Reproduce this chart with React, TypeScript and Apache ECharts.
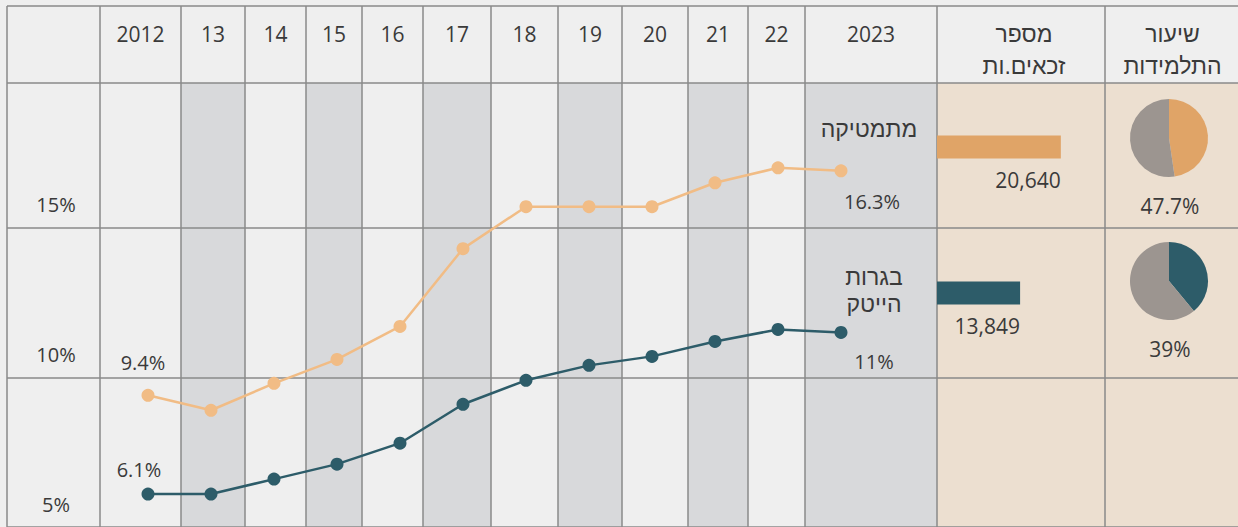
import React, { useEffect, useRef } from "react";
import * as echarts from "echarts";

// ---------- data ----------
const years = ["2012", "13", "14", "15", "16", "17", "18", "19", "20", "21", "22", "2023"];
const mathShare = [9.4, 8.9, 9.8, 10.6, 11.7, 14.3, 15.7, 15.7, 15.7, 16.5, 17.0, 16.9];
const hitechShare = [6.1, 6.1, 6.6, 7.1, 7.8, 9.1, 9.9, 10.4, 10.7, 11.2, 11.6, 11.5];
const mathEndTexts = ["9.4%", "16.3%"];
const hitechEndTexts = ["6.1%", "11%"];
const trackNames = ["מתמטיקה", "בגרות\nהייטק"];
const eligibleCount = [20640, 13849];
const femaleShare = [47.7, 39];
const headerTitles = ["מספר\nזכאים.ות", "שיעור\nהתלמידות"];

// ---------- style / layout ----------
const W = 1238;
const H = 527;
const FONT = "'Open Sans', 'DejaVu Sans', sans-serif";
const HEB_FONT = "'Liberation Sans', 'DejaVu Sans', sans-serif";
const HEB_SIZE = 23;
const TEXT = "#3a3a3a";
const ORANGE_LINE = "#f1bc85";
const ORANGE_BAR = "#e0a467";
const TEAL = "#2d5c69";
const PIE_GRAY = "#9c9590";
const BG = "#efefef";
const STRIPE = "#d8d9db";
const TAN = "#ecdfd0";
const RULE = "#8a8a8a";

const TABLE_LEFT = 7;
const TABLE_TOP = 6;
const HEADER_BOTTOM = 83;
const COL_EDGES = [7, 100, 181, 245, 306, 362, 423, 491, 558, 622, 688, 748, 805, 937, 1105];
const YEAR_COL_START = 1; // index in COL_EDGES where the year columns begin

const LINE_GRID = { left: 116.5, top: HEADER_BOTTOM, width: 756, height: 445 };
const PX_PER_PCT = 30;
const Y_MIN = 5;
const Y_MAX = Y_MIN + LINE_GRID.height / PX_PER_PCT;
const Y_STEP = 5;

const BAR_GRID = { left: 937, top: 74, width: 168, height: 292 };
const BAR_MAX = 28000;
const PIE_X = 1169;
const PIE_CENTERS_Y = [138, 281];
const PIE_R = 39;

// header year labels are centred in their (irregular) table columns
function yearLabelRich() {
  const step = LINE_GRID.width / years.length;
  const rich: any = {};
  years.forEach((_, k) => {
    const colCenter = (COL_EDGES[YEAR_COL_START + k] + COL_EDGES[YEAR_COL_START + k + 1]) / 2;
    const catCenter = LINE_GRID.left + step * (k + 0.5);
    const shift = colCenter - catCenter;
    rich["c" + k] = {
      fontSize: 21,
      color: TEXT,
      fontFamily: FONT,
      padding: shift >= 0 ? [0, 0, 0, 2 * shift] : [0, -2 * shift, 0, 0],
    };
  });
  return rich;
}

function buildGraphic() {
  const els: any[] = [];
  for (let k = 0; k < years.length; k++) {
    if (k % 2 === 1) {
      const x0 = COL_EDGES[YEAR_COL_START + k];
      const x1 = COL_EDGES[YEAR_COL_START + k + 1];
      els.push({
        type: "rect", z: -10, silent: true,
        shape: { x: x0, y: HEADER_BOTTOM, width: x1 - x0, height: H - HEADER_BOTTOM },
        style: { fill: STRIPE },
      });
    }
  }
  const tanX = COL_EDGES[YEAR_COL_START + years.length];
  els.push({
    type: "rect", z: -10, silent: true,
    shape: { x: tanX, y: HEADER_BOTTOM, width: W - tanX, height: H - HEADER_BOTTOM },
    style: { fill: TAN },
  });
  COL_EDGES.forEach((x) => {
    els.push({
      type: "line", z: 1, silent: true,
      shape: { x1: x, y1: TABLE_TOP, x2: x, y2: H },
      style: { stroke: RULE, lineWidth: 1.5 },
    });
  });
  els.push({
    type: "line", z: 1, silent: true,
    shape: { x1: TABLE_LEFT, y1: TABLE_TOP, x2: W, y2: TABLE_TOP },
    style: { stroke: RULE, lineWidth: 1.5 },
  });
  const titleXs = [(COL_EDGES[13] + COL_EDGES[14]) / 2 + 3, (COL_EDGES[14] + W) / 2 + 1];
  headerTitles.forEach((t, i) => {
    els.push({
      type: "text", z: 5, silent: true,
      style: {
        text: t, x: titleXs[i], y: 50, align: "center", verticalAlign: "middle",
        fontSize: HEB_SIZE, lineHeight: 32, fill: TEXT, fontFamily: HEB_FONT,
      },
    });
  });
  femaleShare.forEach((s, i) => {
    els.push({
      type: "text", z: 5, silent: true,
      style: {
        text: `${s}%`, x: PIE_X + 1, y: PIE_CENTERS_Y[i] + 68, align: "center", verticalAlign: "middle",
        fontSize: 21, fill: TEXT, fontFamily: FONT,
      },
    });
  });
  return els;
}

function lineSeries(values: number[], ends: string[], name: string, color: string, nameOffset: number[], endOffsets: any) {
  const last = values.length - 1;
  return {
    type: "line",
    xAxisIndex: 0,
    yAxisIndex: 0,
    silent: true,
    z: 3,
    symbol: "circle",
    symbolSize: 13,
    lineStyle: { color, width: 2.5 },
    itemStyle: { color },
    label: { show: false, fontSize: 20, color: TEXT, fontFamily: FONT },
    endLabel: {
      show: true,
      formatter: name,
      align: "center",
      verticalAlign: "middle",
      distance: 0,
      offset: nameOffset,
      fontSize: HEB_SIZE,
      lineHeight: 27,
      color: TEXT,
      fontFamily: HEB_FONT,
    },
    data: values.map((v, i) => {
      if (i === 0) {
        return { value: v, label: { show: true, position: "top", formatter: ends[0], ...endOffsets.first } };
      }
      if (i === last) {
        return { value: v, label: { show: true, position: "bottom", formatter: ends[1], ...endOffsets.last } };
      }
      return v;
    }),
  };
}

export default function App() {
  const ref = useRef<HTMLDivElement>(null);
  useEffect(() => {
    document.body.style.margin = "0";
    const chart = echarts.init(ref.current!, null, { renderer: "svg" });
    const option: any = {
      animation: false,
      backgroundColor: BG,
      textStyle: { fontFamily: FONT },
      grid: [
        { ...LINE_GRID },
        { left: TABLE_LEFT, right: 0, top: LINE_GRID.top, height: LINE_GRID.height },
        { ...BAR_GRID },
      ],
      xAxis: [
        {
          gridIndex: 0,
          type: "category",
          position: "top",
          data: years,
          boundaryGap: true,
          axisLine: { show: false },
          axisTick: { show: false },
          splitLine: { show: false },
          axisLabel: {
            interval: 0,
            margin: 49,
            verticalAlign: "middle",
            fontSize: 21,
            color: TEXT,
            fontFamily: FONT,
            formatter: (v: string, i: number) => `{c${i}|${v}}`,
            rich: yearLabelRich(),
          },
        },
        { gridIndex: 1, type: "value", show: false, min: 0, max: 1 },
        { gridIndex: 2, type: "value", show: false, min: 0, max: BAR_MAX },
      ],
      yAxis: [
        {
          gridIndex: 0,
          type: "value",
          min: Y_MIN,
          max: Y_MAX,
          interval: Y_STEP,
          axisLine: { show: false },
          axisTick: { show: false },
          splitLine: { show: false },
          axisLabel: {
            align: "center",
            verticalAlign: "bottom",
            padding: [0, 0, 13, 0],
            margin: LINE_GRID.left - 56,
            fontSize: 20,
            color: TEXT,
            fontFamily: FONT,
            formatter: (v: number) => (Math.abs(v % Y_STEP) < 1e-6 ? `${v}%` : ""),
          },
        },
        {
          gridIndex: 1,
          type: "value",
          min: Y_MIN,
          max: Y_MAX,
          interval: Y_STEP,
          axisLine: { show: false },
          axisTick: { show: false },
          axisLabel: { show: false },
          splitLine: { show: true, lineStyle: { color: RULE, width: 1.5 } },
        },
        {
          gridIndex: 2,
          type: "category",
          data: trackNames,
          inverse: true,
          show: false,
        },
      ],
      graphic: buildGraphic(),
      series: [
        lineSeries(mathShare, mathEndTexts, trackNames[0], ORANGE_LINE, [28, -42], {
          first: { distance: 16, offset: [-5, 0] },
          last: { distance: 14, offset: [31, 0] },
        }),
        lineSeries(hitechShare, hitechEndTexts, trackNames[1], TEAL, [33, -42], {
          first: { distance: 8, offset: [-9, 0] },
          last: { distance: 13, offset: [33, 0] },
        }),
        {
          type: "bar",
          xAxisIndex: 2,
          yAxisIndex: 2,
          silent: true,
          barWidth: 23,
          data: eligibleCount.map((v, i) => ({ value: v, itemStyle: { color: i === 0 ? ORANGE_BAR : TEAL } })),
          label: {
            show: true,
            position: ["100%", "100%"],
            align: "right",
            verticalAlign: "top",
            offset: [0, 11],
            fontSize: 21,
            color: TEXT,
            fontFamily: FONT,
            formatter: (p: any) => Number(p.value).toLocaleString("en-US"),
          },
        },
        ...femaleShare.map((s, i) => ({
          type: "pie",
          silent: true,
          center: [PIE_X, PIE_CENTERS_Y[i]],
          radius: PIE_R,
          startAngle: 90,
          clockwise: true,
          label: { show: false },
          labelLine: { show: false },
          data: [
            { value: s, itemStyle: { color: i === 0 ? ORANGE_BAR : TEAL } },
            { value: 100 - s, itemStyle: { color: PIE_GRAY } },
          ],
        })),
      ],
    };
    chart.setOption(option);
    return () => chart.dispose();
  }, []);
  return (
    <div
      ref={ref}
      style={{ position: "absolute", left: 0, top: 0, width: W, height: H }}
    />
  );
}
